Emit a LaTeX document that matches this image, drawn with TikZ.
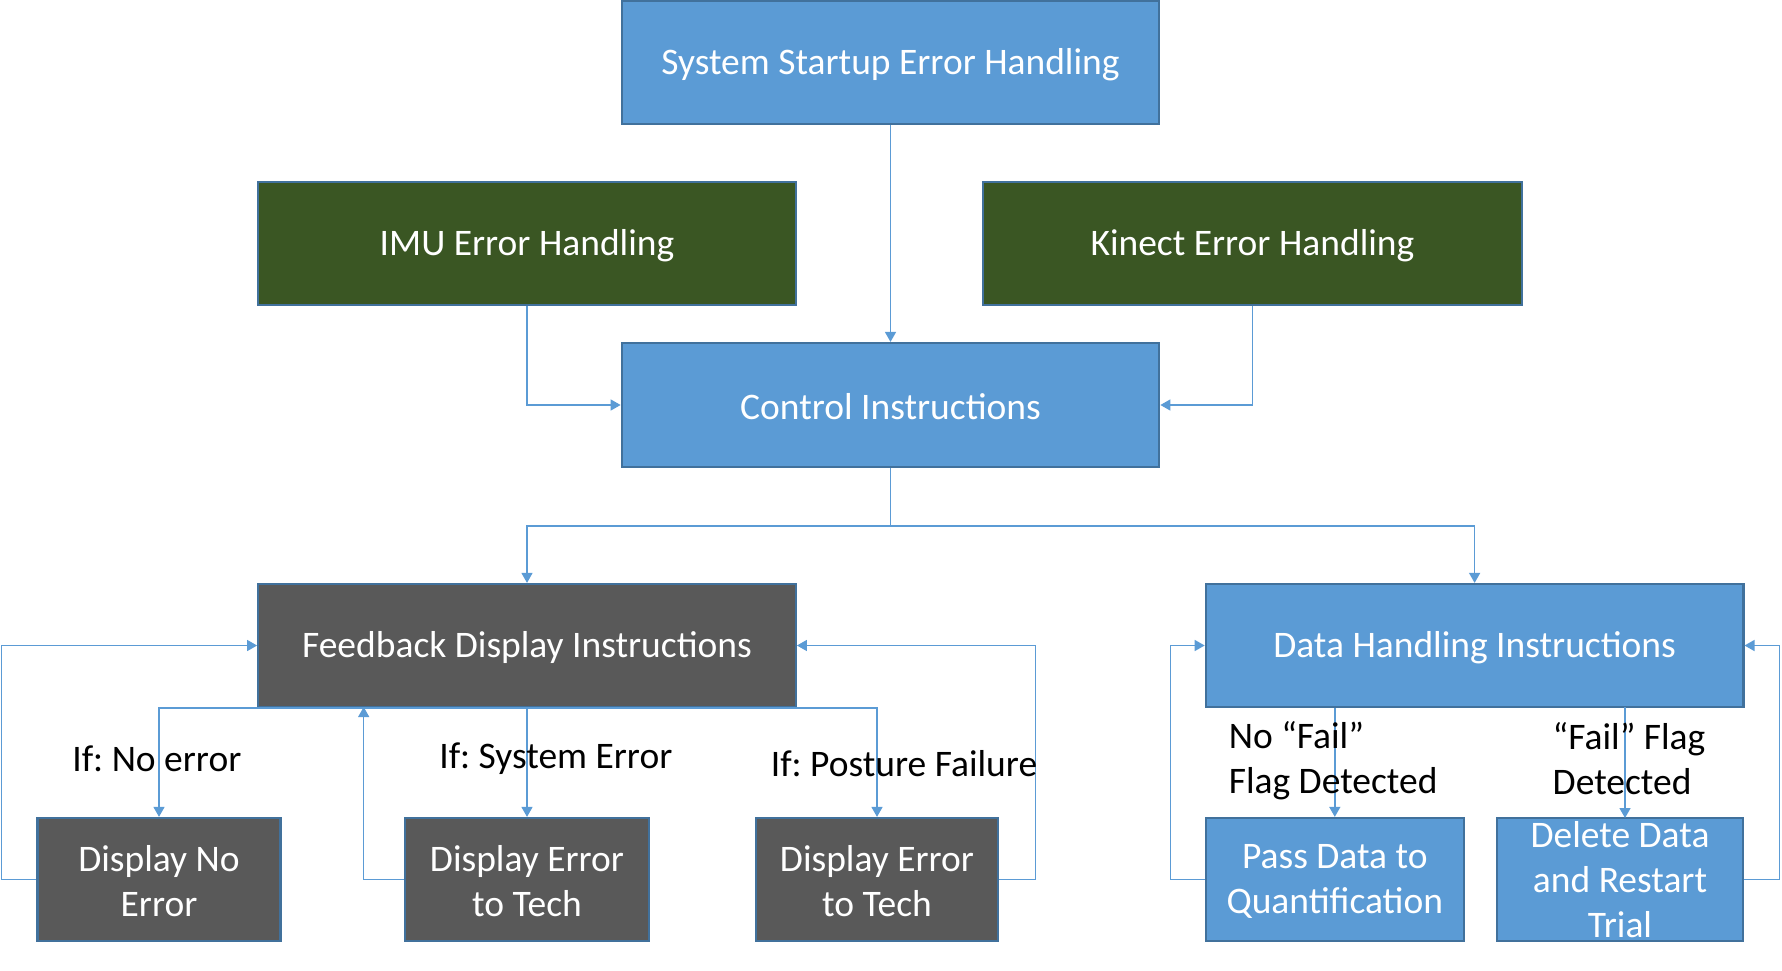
\documentclass[tikz,border=0pt]{standalone}
\usepackage{fontspec}
\setmainfont{Carlito}
\usetikzlibrary{arrows.meta}
\definecolor{boxblue}{HTML}{5B9BD5}
\definecolor{boxedge}{HTML}{41719C}
\definecolor{boxgreen}{HTML}{3A5623}
\definecolor{boxgray}{HTML}{595959}
\definecolor{linkblue}{HTML}{5B9BD5}
\frenchspacing
\begin{document}
\begin{tikzpicture}[x=1pt,y=-1pt,
  font=\fontsize{37.5}{45}\selectfont,
  basebox/.style={draw=boxedge, line width=2.2pt, inner sep=0pt, text=white, align=center, minimum height=123pt},
  bluebox/.style={basebox, fill=boxblue},
  greenbox/.style={basebox, fill=boxgreen},
  graybox/.style={basebox, fill=boxgray},
  boxtext/.style={text=white, align=center, yshift=-2pt},
  link/.style={draw=linkblue, line width=1.4pt, -{Triangle[length=10pt,width=11pt]}},
  plainlink/.style={draw=linkblue, line width=1.4pt},
  cond/.style={text=black, inner sep=0pt}
]
\useasboundingbox (0,0) rectangle (1782,971);
% boxes
\node[bluebox, minimum width=537.5pt] (startup) at (890.5,62.5) {};
\node[boxtext] (startuptext) at (startup.center) {System Startup Error Handling};
\node[greenbox, minimum width=537.6pt] (imu) at (527,243.3) {};
\node[boxtext] (imutext) at (imu.center) {IMU Error Handling};
\node[greenbox, minimum width=538.8pt] (kinect) at (1252.4,243.3) {};
\node[boxtext] (kinecttext) at (kinect.center) {Kinect Error Handling};
\node[bluebox, minimum width=537.5pt, minimum height=124pt] (control) at (890.5,405) {};
\node[boxtext] (controltext) at (control.center) {Control Instructions};
\node[graybox, minimum width=537.6pt] (fb) at (527,645.5) {};
\node[boxtext] (fbtext) at (fb.center) {Feedback Display Instructions};
\node[bluebox, minimum width=537.6pt] (data) at (1474.6,645.5) {};
\node[boxtext] (datatext) at (data.center) {Data Handling Instructions};
\node[graybox, minimum width=243pt] (dne) at (159,879.5) {};
\node[boxtext] (dnetext) at (dne.center) {Display No\\Error};
\node[graybox, minimum width=244.5pt] (det1) at (527,879.5) {};
\node[boxtext] (det1text) at (det1.center) {Display Error\\to Tech};
\node[graybox, minimum width=242pt] (det2) at (877,879.5) {};
\node[boxtext] (det2text) at (det2.center) {Display Error\\to Tech};
\node[bluebox, minimum width=258pt] (pass) at (1334.8,879.5) {};
\node[boxtext] (passtext) at (pass.center) {Pass Data to\\Quantification};
\node[bluebox, minimum width=246.6pt] (del) at (1620,879.5) {};
\node[boxtext, yshift=2pt] (deltext) at (del.center) {Delete Data\\and Restart\\Trial};
% helper coordinates
\coordinate (split) at (890.5,526);
\coordinate (dneL) at (1.5,879.5);
\coordinate (det1L) at (363.7,879.5);
\coordinate (det2R) at (1035.4,879.5);
\coordinate (passL) at (1170.6,879.5);
\coordinate (delR) at (1779.7,879.5);
\coordinate (fbS1) at (363.7,707);
\coordinate (dataS2) at (1625,707);
\coordinate (delN) at (1625,818);
% connectors top
\draw[link] (startup.south) -- (control.north);
\draw[link] (imu.south) |- (control.west);
\draw[link] (kinect.south) |- (control.east);
\draw[plainlink] (control.south) -- (split);
\draw[link] (split) -| (fb.north);
\draw[link] (split) -| (data.north);
% feedback branch
\draw[link] (fb.south) -| (dne.north);
\draw[link] (fb.south) -- (det1.north);
\draw[link] (fb.south) -| (det2.north);
\draw[link] (dne.west) -- (dneL) |- (fb.west);
\draw[link] (det1.west) -- (det1L) -- (fbS1);
\draw[link] (det2.east) -- (det2R) |- (fb.east);
% data branch
\draw[link] (data.south -| pass.north) -- (pass.north);
\draw[link] (dataS2) -- (delN);
\draw[link] (pass.west) -- (passL) |- (data.west);
\draw[link] (del.east) -- (delR) |- (data.east);
% condition labels
\node[cond] (c1) at (156.8,759) {If: No error};
\node[cond] (c2) at (555.8,759) {If: System Error};
\node[cond] (c3) at (904,763.6) {If: Posture Failure};
\node[cond, anchor=west, align=left] (c4) at (1228.6,761) {No “Fail”\\Flag Detected};
\node[cond, anchor=west, align=left] (c5) at (1552.5,758.5) {“Fail” Flag\\Detected};
\end{tikzpicture}
\end{document}
